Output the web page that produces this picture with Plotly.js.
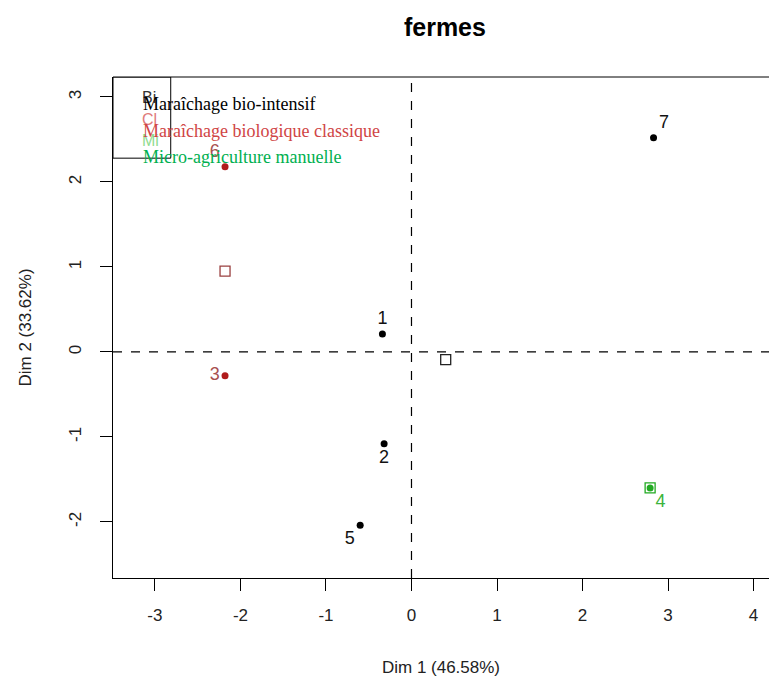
<!DOCTYPE html>
<html>
<head>
<meta charset="utf-8">
<script src="https://cdn.plot.ly/plotly-3.0.1.min.js"></script>
<style>html,body{margin:0;padding:0;background:#fff;}#chart{width:769px;height:679px;}</style>
</head>
<body>
<div id="chart"></div>
<script>
// Individuals (farms)
const indLabels = ['1','2','3','4','5','6','7'];
const indX = [-0.34, -0.32, -2.18, 2.79, -0.60, -2.18, 2.83];
const indY = [0.21, -1.08, -0.28, -1.60, -2.04, 2.18, 2.52];
const indGroup = ['Bi','Bi','Cl','Mi','Bi','Cl','Bi'];
// Group centroids (open squares)
const grpNames = ['Bi','Cl','Mi'];
const grpX = [0.40, -2.18, 2.79];
const grpY = [-0.09, 0.95, -1.60];
const grpLegend = ['Maraîchage bio-intensif','Maraîchage biologique classique','Micro-agriculture manuelle'];

const titleText = 'fermes';
const xTitle = 'Dim 1 (46.58%)';
const yTitle = 'Dim 2 (33.62%)';
const xTicks = [-3,-2,-1,0,1,2,3,4];
const yTicks = [-2,-1,0,1,2,3];

const ptColor = {Bi:'#000000', Cl:'#b01c1c', Mi:'#22aa22'};
const lblColor = {Bi:'#111111', Cl:'#a85050', Mi:'#3cb43c'};
const sqColor = {Bi:'#222222', Cl:'#9a4040', Mi:'#22aa22'};
const legColor = {Bi:'#000000', Cl:'#d04545', Mi:'#00b050'};
const legSmallColor = {Bi:'#333333', Cl:'#e07a7a', Mi:'#8fdc8f'};
const posMap = {'1':'top center','2':'bottom center','3':'middle left','4':'bottom right','5':'bottom left','6':'top left','7':'top right'};

const traces = [];
indLabels.forEach((lab,i)=>{
  const g = indGroup[i];
  traces.push({
    type:'scatter', mode:'markers+text',
    x:[indX[i]], y:[indY[i]], text:[lab],
    textposition: posMap[lab],
    textfont:{family:'Liberation Sans, Arial, sans-serif', size:18, color:lblColor[g]},
    marker:{symbol:'circle', size:7, color:ptColor[g]},
    showlegend:false, hoverinfo:'skip', cliponaxis:false
  });
});
grpNames.forEach((g,i)=>{
  traces.push({
    type:'scatter', mode:'markers',
    x:[grpX[i]], y:[grpY[i]],
    marker:{symbol:'square-open', size:10, color:sqColor[g], line:{width:1.3, color:sqColor[g]}},
    showlegend:false, hoverinfo:'skip'
  });
});

const xr = [-3.49, 4.18];
const yr = [-2.66, 3.235];

// legend (R-style box, drawn as annotations)
const legX = -3.165;
const legY = [2.92, 2.60, 2.29];
const legSmallY = [2.99, 2.74, 2.49];
const annotations = [];
grpNames.forEach((g,i)=>{
  annotations.push({x:-3.17, y:legSmallY[i], xref:'x', yref:'y', text:g, showarrow:false, xanchor:'left', yanchor:'middle',
    font:{family:'Liberation Sans, Arial, sans-serif', size:16, color:legSmallColor[g]}});
});
grpNames.forEach((g,i)=>{
  annotations.push({x:legX, y:legY[i], xref:'x', yref:'y', text:grpLegend[i], showarrow:false, xanchor:'left', yanchor:'middle',
    font:{family:'Liberation Serif, Times New Roman, serif', size:18, color:legColor[g]}});
});

const layout = {
  width:769, height:679,
  margin:{l:113, r:0, t:77, b:101},
  paper_bgcolor:'#fff', plot_bgcolor:'#fff',
  title:{text:'<b>'+titleText+'</b>', x:0.506, xref:'paper', y:0.96, yref:'container', xanchor:'center', yanchor:'middle',
    font:{family:'Liberation Sans, Arial, sans-serif', size:25, color:'#000'}},
  xaxis:{range:xr, tickvals:xTicks, ticktext:xTicks.map(String), showgrid:false, zeroline:false,
    showline:true, linecolor:'#000', linewidth:1, ticks:'outside', ticklen:12, tickcolor:'#000', ticklabelstandoff:10,
    tickfont:{family:'Liberation Sans, Arial, sans-serif', size:17, color:'#222'},
    title:{text:xTitle, standoff:36, font:{family:'Liberation Sans, Arial, sans-serif', size:17, color:'#222'}}},
  yaxis:{range:yr, tickvals:yTicks, ticktext:yTicks.map(String), showgrid:false, zeroline:false,
    showline:true, linecolor:'#000', linewidth:1, ticks:'outside', ticklen:12, tickcolor:'#000', tickangle:-90, ticklabelstandoff:12,
    tickfont:{family:'Liberation Sans, Arial, sans-serif', size:17, color:'#222'},
    title:{text:yTitle, standoff:30, font:{family:'Liberation Sans, Arial, sans-serif', size:17, color:'#222'}}},
  shapes:[
    {type:'line', xref:'paper', yref:'paper', x0:0, x1:1, y0:1, y1:1, line:{color:'#000', width:1}},
    {type:'line', xref:'x', yref:'paper', x0:0, x1:0, y0:0, y1:1, line:{color:'#000', width:1.2, dash:'dash'}},
    {type:'line', xref:'paper', yref:'y', x0:0, x1:1, y0:0, y1:0, line:{color:'#000', width:1.2, dash:'dash'}},
    {type:'rect', xref:'x', yref:'y', x0:xr[0], x1:-2.815, y0:2.28, y1:yr[1], line:{color:'#000', width:1}, fillcolor:'rgba(0,0,0,0)'}
  ],
  annotations:annotations,
  showlegend:false
};

Plotly.newPlot('chart', traces, layout, {displayModeBar:false, staticPlot:true});
</script>
</body>
</html>
